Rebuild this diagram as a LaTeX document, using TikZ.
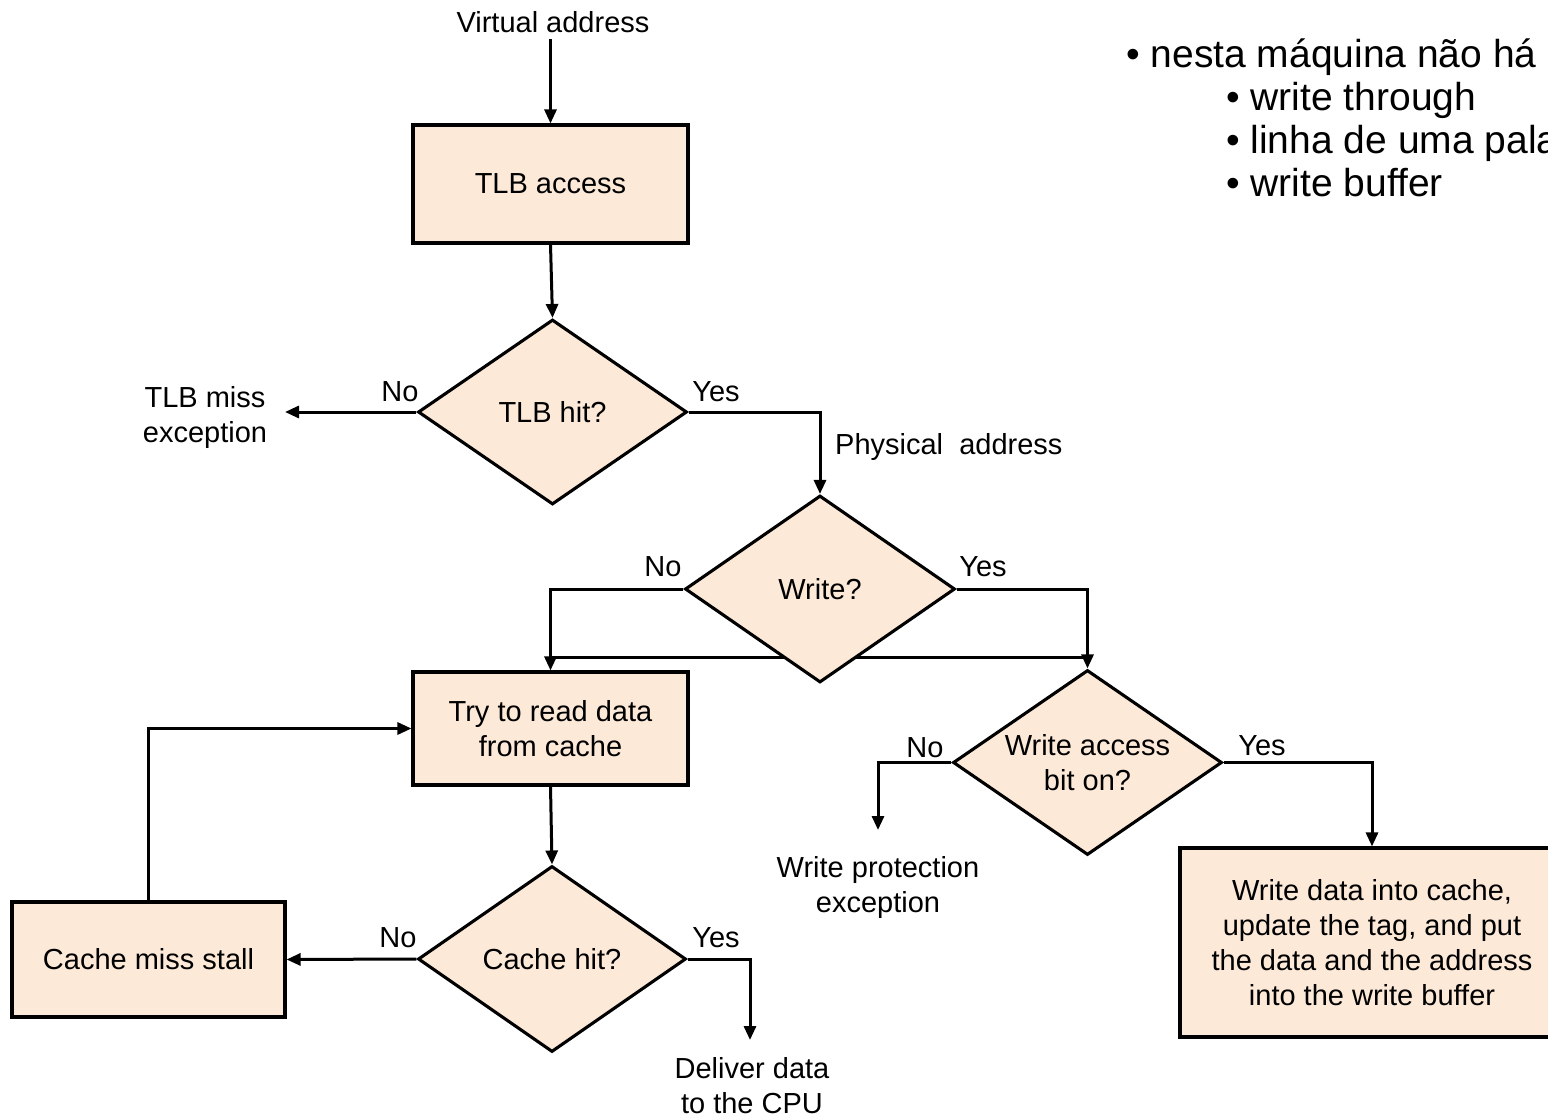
\documentclass[tikz,border=0pt]{standalone}
\usepackage{fontspec}
\setmainfont{Liberation Sans}
\usetikzlibrary{shapes.geometric,arrows.meta,backgrounds}
\definecolor{peach}{RGB}{252,233,216}
\begin{document}
\begin{tikzpicture}[x=1pt,y=-1pt,
  every node/.style={font=\fontsize{29}{35}\selectfont},
  box/.style={draw,line width=3.1pt,fill=peach,align=center,inner sep=0pt},
  dia/.style={diamond,draw,line width=3.1pt,fill=peach,align=center,inner sep=0pt,aspect=1.45},
  lbl/.style={inner sep=0pt,align=center},
  big/.style={inner sep=0pt,anchor=base west,font=\fontsize{39}{43}\selectfont},
  arr/.style={line width=3pt,-{Triangle[length=14pt,width=12pt]}},
  ln/.style={line width=3pt}]
\clip (0,0) rectangle (1548,1118);
\useasboundingbox (0,0) rectangle (1548,1118);

% nodes
\node[lbl] (va) at (553,22) {Virtual address};
\node[box,minimum width=275pt,minimum height=118pt] (tlb) at (550.5,184) {TLB access};
\node[dia,minimum width=269pt,minimum height=185pt] (tlbhit) at (552.5,412) {TLB hit?};
\node[lbl] (tlbmiss) at (205,418) {TLB miss\\exception};
\coordinate (tm) at (285,412);
\node[lbl] (n1) at (400,392) {No};
\node[lbl] (y1) at (716,392) {Yes};
\node[lbl,anchor=west] (pa) at (835,447) {Physical\ \ address};
\node[dia,minimum width=270pt,minimum height=187pt] (wr) at (820,589) {Write?};
\node[lbl] (n2) at (663,567) {No};
\node[lbl] (y2) at (983,567) {Yes};
\node[box,minimum width=275pt,minimum height=113pt] (try) at (550.5,728.5) {Try to read data\\from cache};
\node[dia,minimum width=268pt,minimum height=186pt] (ch) at (552,959) {Cache hit?};
\node[lbl] (n3) at (398,938) {No};
\node[lbl] (y3) at (716,938) {Yes};
\node[box,minimum width=273pt,minimum height=115pt] (cms) at (148.5,959.5) {Cache miss stall};
\node[lbl] (del) at (752,1086) {Deliver data\\to the CPU};
\coordinate (dtip) at (750,1040);
\node[dia,minimum width=269pt,minimum height=185pt] (wab) at (1087.5,762.5) {Write access\\bit on?};
\node[lbl] (n4) at (925,748) {No};
\node[lbl] (y4) at (1262,746) {Yes};
\node[lbl] (wpe) at (878,887) {Write protection\\exception};
\coordinate (wtip) at (878,830);
\node[box,minimum width=384pt,minimum height=189pt] (wd) at (1372,942.5) {Write data into cache,\\update the tag, and put\\the data and the address\\into the write buffer};

% bullet text
\node[big] (b0) at (1126,68) {• nesta máquina não há};
\node[big] (b1) at (1226,111) {• write through};
\node[big] (b2) at (1226,154) {• linha de uma pala};
\node[big] (b3) at (1226,197) {• write buffer};

% connectors
\begin{scope}[on background layer]
\draw[arr] ([yshift=-6pt]va.south -| tlb.north) -- (tlb.north);
\draw[arr] (tlb.south) -- (tlbhit.north);
\draw[arr] (tlbhit.west) -- (tm);
\draw[arr] (tlbhit.east) -| (wr.north);
\draw[arr] (wr.west) -| (try.north);
\draw[arr] (wr.east) -| (wab.north);
\draw[ln] ([yshift=13pt]try.north) -- ([yshift=13pt]try.north -| wab.north);
\draw[arr] (try.south) -- (ch.north);
\draw[arr] (ch.west) -- (cms.east);
\draw[arr] (cms.north) |- (try.west);
\draw[arr] (ch.east) -| (dtip);
\draw[arr] (wab.west) -| (wtip);
\draw[arr] (wab.east) -| (wd.north);
\end{scope}
\end{tikzpicture}
\end{document}
